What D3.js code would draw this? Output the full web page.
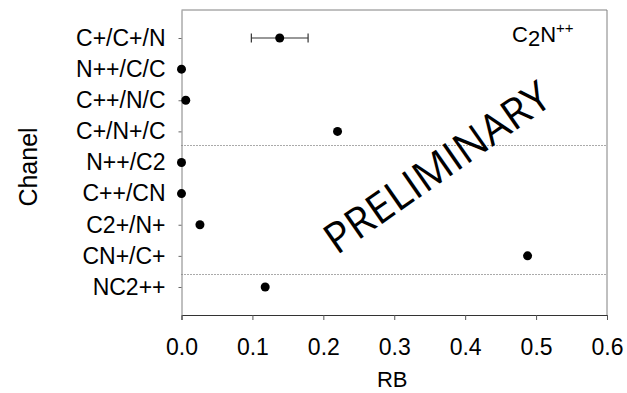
<!DOCTYPE html>
<html>
<head>
<meta charset="utf-8">
<script src="https://cdn.jsdelivr.net/npm/d3@7"></script>
<style>
  html, body { margin: 0; padding: 0; background: #fff; }
  svg text { font-family: "Liberation Sans", Arial, sans-serif; fill: #000; }
</style>
</head>
<body>
<div id="chart"></div>
<script>
const channels = ["C+/C+/N", "N++/C/C", "C++/N/C", "C+/N+/C", "N++/C2", "C++/CN", "C2+/N+", "CN+/C+", "NC2++"];
const rbValues = [0.1385, 0.0, 0.006, 0.220, 0.0, 0.0, 0.026, 0.488, 0.118];
const rbErrors = [0.040, null, null, null, null, null, null, null, null];
const xTicks = [0, 0.1, 0.2, 0.3, 0.4, 0.5, 0.6];
const separators = [3.44, 7.58];   // in channel-index units

const W = 627, H = 393;
const m = { top: 10, right: 20, bottom: 78, left: 181.5 };

const svg = d3.select("#chart").append("svg")
  .attr("width", W).attr("height", H);

const x = d3.scaleLinear().domain([0, 0.6]).range([m.left, W - m.right]);
const y = d3.scaleLinear().domain([-0.9, channels.length - 0.1]).range([m.top, H - m.bottom]);

// frame (top + right)
svg.append("path")
  .attr("d", `M${x(0)},${m.top}H${x(0.6)}V${H - m.bottom}`)
  .attr("fill", "none").attr("stroke", "#808080").attr("stroke-width", 1);

// separators
svg.selectAll(".sep").data(separators).join("line")
  .attr("class", "sep")
  .attr("x1", x(0)).attr("x2", x(0.6))
  .attr("y1", d => Math.round(y(d)) + 0.5).attr("y2", d => Math.round(y(d)) + 0.5)
  .attr("stroke", "#555").attr("stroke-width", 1).attr("stroke-dasharray", "1,2");

// x axis
const xAxis = svg.append("g")
  .attr("transform", `translate(0,${H - m.bottom})`)
  .call(d3.axisBottom(x).tickValues(xTicks).tickFormat(d3.format(".1f")).tickSize(5).tickPadding(19));
xAxis.select(".domain").attr("stroke", "#333");
xAxis.selectAll(".tick line").attr("stroke", "#555");
xAxis.selectAll("text").style("font-size", "23px").attr("fill", "#000");

// y axis
const yAxis = svg.append("g")
  .attr("transform", `translate(${x(0)},0)`)
  .call(d3.axisLeft(y).tickValues(d3.range(channels.length)).tickFormat(i => channels[i]).tickSize(3).tickSizeOuter(0).tickPadding(13));
yAxis.select(".domain").attr("stroke", "#808080");
yAxis.selectAll(".tick line").attr("stroke", "#666");
yAxis.selectAll("text").style("font-size", "23px").attr("fill", "#000");

// axis titles
svg.append("text")
  .attr("x", (x(0) + x(0.6)) / 2 - 2).attr("y", 387)
  .attr("text-anchor", "middle")
  .style("font-size", "22px")
  .text("RB");

svg.append("text")
  .attr("transform", `translate(37,167) rotate(-90)`)
  .attr("text-anchor", "middle")
  .style("font-size", "25px")
  .text("Chanel");

// error bars
const errData = channels.map((c, i) => ({ i, v: rbValues[i], e: rbErrors[i] })).filter(d => d.e != null);
const eb = svg.selectAll(".err").data(errData).join("g").attr("class", "err")
  .attr("stroke", "#333").attr("stroke-width", 1.2);
eb.append("line")
  .attr("x1", d => x(d.v - d.e)).attr("x2", d => x(d.v + d.e))
  .attr("y1", d => y(d.i)).attr("y2", d => y(d.i));
eb.append("line")
  .attr("x1", d => x(d.v - d.e)).attr("x2", d => x(d.v - d.e))
  .attr("y1", d => y(d.i) - 4.5).attr("y2", d => y(d.i) + 4.5);
eb.append("line")
  .attr("x1", d => x(d.v + d.e)).attr("x2", d => x(d.v + d.e))
  .attr("y1", d => y(d.i) - 4.5).attr("y2", d => y(d.i) + 4.5);

// points
svg.selectAll(".pt").data(rbValues).join("circle")
  .attr("class", "pt")
  .attr("cx", d => x(d)).attr("cy", (d, i) => y(i))
  .attr("r", 4.5).attr("fill", "#000");

// species label
const lab = svg.append("text")
  .attr("x", 512).attr("y", 42)
  .style("font-size", "22px");
lab.append("tspan").text("C");
lab.append("tspan").attr("dy", 4).text("2");
lab.append("tspan").attr("dy", -4).text("N");
lab.append("tspan").attr("dy", -9).style("font-size", "15px").text("++");

// watermark
svg.append("text")
  .attr("transform", "translate(436,166) rotate(-35)")
  .attr("text-anchor", "middle")
  .attr("dominant-baseline", "central")
  .style("font-family", "'Open Sans', sans-serif")
  .style("font-size", "42px")
  .text("PRELIMINARY");
</script>
</body>
</html>
